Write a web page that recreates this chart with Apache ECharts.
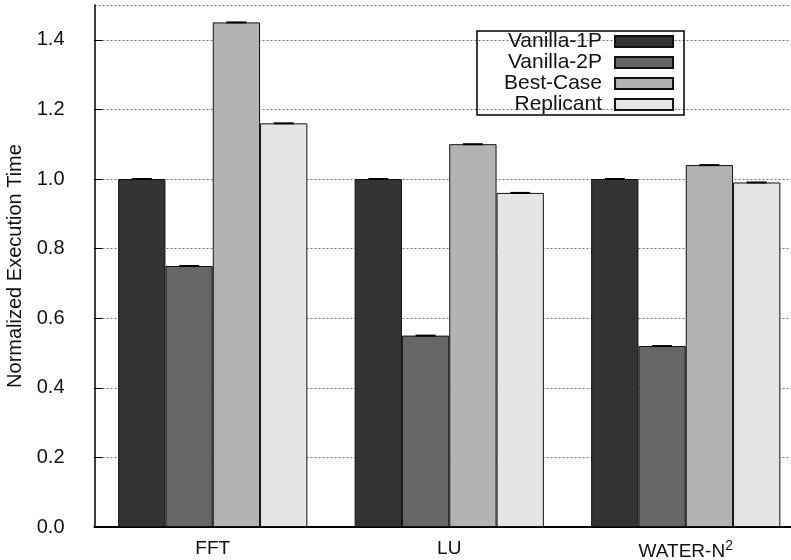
<!DOCTYPE html>
<html>
<head>
<meta charset="utf-8">
<script src="https://cdn.jsdelivr.net/npm/echarts@6/dist/echarts.min.js"></script>
<style>
  html, body { margin: 0; padding: 0; background: #fff; }
  #chart { width: 791px; height: 560px; }
</style>
</head>
<body>
<div id="chart"></div>
<script>
// data
const categories = ['FFT', 'LU', 'WATER-N2']
const seriesNames = ['Vanilla-1P', 'Vanilla-2P', 'Best-Case', 'Replicant']
const vanilla1P = [1.00, 1.00, 1.00]
const vanilla2P = [0.75, 0.55, 0.52]
const bestCase = [1.45, 1.10, 1.04]
const replicant = [1.16, 0.96, 0.99]
const yTicks = [0, 0.2, 0.4, 0.6, 0.8, 1.0, 1.2, 1.4]

const barColors = ['#333333', '#666666', '#b3b3b3', '#e5e5e5']
const font = 'Liberation Sans, Arial, Helvetica, sans-serif'

const chart = echarts.init(document.getElementById('chart'))

const allValues = [vanilla1P, vanilla2P, bestCase, replicant]

// little caps on top of each bar
let capData = []
for (let s = 0; s < allValues.length; s++) {
  for (let c = 0; c < categories.length; c++) {
    capData.push([c, allValues[s][c], s])
  }
}

let series = []
for (let i = 0; i < allValues.length; i++) {
  series.push({
    name: seriesNames[i],
    type: 'bar',
    data: allValues[i],
    barGap: '0%',
    barCategoryGap: '20%',
    itemStyle: {
      color: barColors[i],
      borderColor: '#111',
      borderWidth: 1
    },
    emphasis: { disabled: true }
  })
}
series.push({
  type: 'custom',
  silent: true,
  z: 5,
  data: capData,
  renderItem(params, api) {
    const pt = api.coord([api.value(0), api.value(1)])
    const bw = api.size([1, 0])[0] * 0.8 / 4
    const cx = pt[0] + (api.value(2) - 1.5) * bw
    return {
      type: 'line',
      shape: { x1: cx - 10, y1: pt[1], x2: cx + 10, y2: pt[1] },
      style: { stroke: '#000', lineWidth: 2 }
    }
  }
})

chart.setOption({
  animation: false,
  textStyle: { fontFamily: font },
  grid: {
    left: 94.5,
    width: 709.5,
    top: 5,
    bottom: 33,
    outerBoundsMode: 'none'
  },
  legend: {
    data: seriesNames,
    orient: 'vertical',
    align: 'right',
    left: 477,
    top: 31,
    padding: [0, 10, 0, 27],
    itemWidth: 58,
    itemHeight: 11,
    itemGap: 0,
    borderColor: '#000',
    borderWidth: 1.5,
    icon: 'rect',
    selectedMode: false,
    textStyle: {
      fontSize: 21,
      lineHeight: 21,
      color: '#111',
      padding: [0, 8, 0, 0]
    }
  },
  xAxis: {
    type: 'category',
    data: categories,
    axisLine: { lineStyle: { color: '#000', width: 2 } },
    axisTick: { show: false },
    axisLabel: {
      fontSize: 19,
      color: '#111',
      margin: 12,
      formatter(v) {
        if (v === 'WATER-N2') return '{a|WATER-N}{sup|2}'
        return v
      },
      rich: {
        a: { fontSize: 19, color: '#111' },
        sup: { fontSize: 14, color: '#111', verticalAlign: 'top', padding: [0, 0, 11, 0] }
      }
    }
  },
  yAxis: {
    type: 'value',
    min: 0,
    max: 1.5,
    interval: 0.2,
    name: 'Normalized Execution Time',
    nameLocation: 'middle',
    nameGap: 62,
    nameTextStyle: { fontSize: 20, color: '#111' },
    axisLine: { show: true, lineStyle: { color: '#000', width: 1.5 } },
    axisTick: { show: true, inside: true, length: 8, lineStyle: { color: '#000' } },
    axisLabel: {
      fontSize: 20,
      color: '#111',
      margin: 30,
      showMaxLabel: false,
      formatter(v) {
        return yTicks.some(t => Math.abs(t - v) < 1e-9) ? v.toFixed(1) : ''
      }
    },
    splitLine: {
      show: true,
      lineStyle: { color: '#777', type: [2, 2], width: 1 }
    }
  },
  series: series
})
</script>
</body>
</html>
